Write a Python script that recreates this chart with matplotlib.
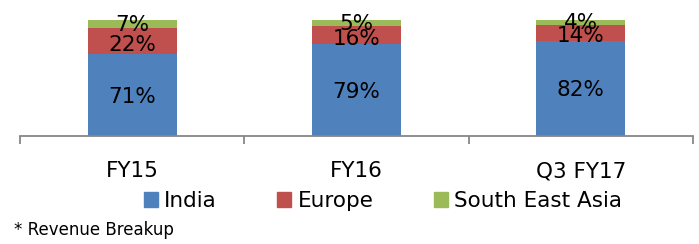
import matplotlib.pyplot as plt
from matplotlib.patches import Patch

categories = ["FY15", "FY16", "Q3 FY17"]
india = [71, 79, 82]
europe = [22, 16, 14]
sea = [7, 5, 4]

colors = {"India": "#4F81BD", "Europe": "#C0504D", "South East Asia": "#9BBB59"}
plt.rcParams['font.family'] = ['DejaVu Sans']

fig = plt.figure(figsize=(6.99, 2.44), dpi=100)
ax = fig.add_axes([20 / 699, 1 - 136 / 244, 673 / 699, 116 / 244])

x = list(range(len(categories)))
w = 0.396
ax.bar(x, india, w, color=colors["India"])
ax.bar(x, europe, w, bottom=india, color=colors["Europe"])
bot2 = [a + b for a, b in zip(india, europe)]
ax.bar(x, sea, w, bottom=bot2, color=colors["South East Asia"])

for i in x:
    ax.text(i, india[i] / 2, f"{india[i]}%", ha="center", va="center_baseline", fontsize=15.5)
    ax.text(i, india[i] + europe[i] / 2 - 1.5, f"{europe[i]}%", ha="center", va="center_baseline", fontsize=15.5)
    ax.text(i, bot2[i] + sea[i] / 2 + 1, f"{sea[i]}%", ha="center", va="center_baseline", fontsize=15.5, clip_on=False)

ax.set_xlim(-0.5, 2.5)
ax.set_ylim(0, 100)
for s in ["top", "right", "left"]:
    ax.spines[s].set_visible(False)
ax.spines["bottom"].set_color("#878787")
ax.spines["bottom"].set_linewidth(1.3)
ax.set_yticks([])
ax.set_xticks(x)
ax.set_xticklabels(categories, fontsize=15.5)
ax.tick_params(axis="x", which="major", length=0, pad=18)
ax.set_xticks([-0.5, 0.5, 1.5, 2.5], minor=True)
ax.tick_params(axis="x", which="minor", length=6, width=1.3, color="#878787", direction="out")

handles = [Patch(color=c, label=k) for k, c in colors.items()]
fig.legend(handles=handles, loc="center", bbox_to_anchor=(383 / 699, 1 - 201 / 244),
           ncol=3, frameon=False, fontsize=15.5, handlelength=0.65, handleheight=0.65,
           handletextpad=0.3, columnspacing=2.8, borderpad=0)

fig.text(14 / 699, 1 - 230 / 244, "* Revenue Breakup", fontsize=12, va="center", ha="left")

fig.savefig("out.png", dpi=100)
